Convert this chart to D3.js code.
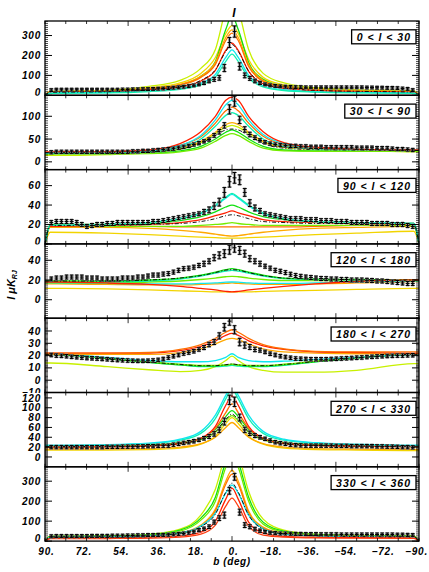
<!DOCTYPE html>
<html>
<head>
<meta charset="utf-8">
<script src="https://cdnjs.cloudflare.com/ajax/libs/d3/7.8.5/d3.min.js"></script>
<style>
body { margin:0; background:#fff; }
text { font-family:"Liberation Sans", Arial, sans-serif; font-style:italic; font-weight:bold; fill:#000; }
</style>
</head>
<body>
<div id="chart"></div>
<script>
// latitude bins of the data points (deg), left to right
var bins = d3.range(72).map(function(j){ return 86.975 - 2.45*j; });
// latitudes where the model curves are sampled
var knots = [90, 87.5, 60, 40, 25, 15, 8, 3, 0, -3, -8, -15, -25, -40, -60, -87.5, -90];

var panelNames = ["0 < l < 30", "30 < l < 90", "90 < l < 120", "120 < l < 180",
                  "180 < l < 270", "270 < l < 330", "330 < l < 360"];
var yDomains = [[0,373], [-17,146], [0,76.5], [-18.7,56.6], [-10,50.4], [-20,131], [0,372]];
var yTicks = [[0,100,200,300], [0,50,100], [0,20,40,60], [0,20,40], [-10,0,10,20,30,40],
              [0,20,40,60,80,100,120], [0,100,200,300]];
var yMinor = [10, 5, 2, 2, 1, 2, 10];
var xLabels = [90, 72, 54, 36, 18, 0, -18, -36, -54, -72, -90];

// data points (uK_RJ)
var data1 = [26,28,28,28,28,28, 28,28,28,28,28,28, 28,28,29,29,30,30, 31,31,32,33,34,36, 38,40,43,46,50,55, 62,72,80,88,137,265,
             320,145,100,85,72,62, 55,50,47,45,43,42, 41,41,40,40,40,40, 40,40,40,40,40,40, 40,40,39,39,38,38, 37,37,36,34,32,26];
var err1  = [7,7,7,7,7,7, 7,7,7,7,7,7, 7,7,7,7,7,7, 7,7,7,7,7,7, 7,7,7,7,7,7, 8,9,10,12,18,25,
             28,18,12,10,9,8, 7,7,7,7,7,7, 7,7,7,7,7,7, 7,7,7,7,7,7, 7,7,7,7,7,7, 7,7,7,7,7,7];
var data2 = [21,22,22,22,22,22, 22,22,22,22,22,22, 22,22,22,22,23,23, 24,24,25,26,27,28, 29,31,33,35,38,41, 45,49,58,66,80,115,
             133,92,71,60,53,47, 43,40,38,37,36,35, 35,34,34,33,33,33, 32,32,32,32,32,32, 31,31,31,31,30,30, 30,29,28,28,27,26];
var err2  = [3.5,3.5,3.5,3.5,3.5,3.5, 3.5,3.5,3.5,3.5,3.5,3.5, 3.5,3.5,3.5,3.5,3.5,3.5, 3.5,3.5,3.5,3.5,3.5,3.5, 3.5,3.5,3.5,3.5,3.5,3.5, 3.5,3.5,4,5,6,10,
             11,8,6,5,4,3.5, 3.5,3.5,3.5,3.5,3.5,3.5, 3.5,3.5,3.5,3.5,3.5,3.5, 3.5,3.5,3.5,3.5,3.5,3.5, 3.5,3.5,3.5,3.5,3.5,3.5, 3.5,3.5,3.5,3.5,3.5,3.5];
var data3 = [22,23,23,23,23,22, 20,18,19,20,20,21, 21,22,22,22,22,22, 22,22,23,23,24,25, 26,27,28,29,30,31, 33,35,39,43,53,64,
             68,66,53,42,37,34, 31,30,29,28,27,26, 26,26,25,25,25,24, 24,24,23,23,23,22, 22,22,22,21,21,21, 21,20,20,20,19,18];
var err3  = [2,2,2,2,2,2, 2,2,2,2,2,2, 2,2,2,2,2,2, 2,2,2,2,2,2, 2,2,2,2,2,2, 2.5,3,3.5,4,5,5.5,
             5.5,5,4,3.5,3,2.5, 2,2,2,2,2,2, 2,2,2,2,2,2, 2,2,2,2,2,2, 2,2,2,2,2,2, 2,2,2,2,2,2];
var data4 = [21,22,22,23,23,23, 23,22,22,22,21,21, 21,21,22,22,22,23, 23,24,25,25,26,26.5, 28,29.8,31.5,32,33,34.8, 36.5,39,42.6,45,46.7,50.7,
             52.7,50,46.7,41.6,39,36.5, 34,32,29.8,28.8,27.5,25.8, 24.5,23.7,23,22.5,22,21.5, 21.4,21,21,20.5,20.5,20, 20,20,19.7,19.5,19,19, 18.5,18,17.5,17,16.5,16.5];
var err4  = [2,2,2,2,2,2, 2,2,2,2,2,2, 2,2,2,2,2,2, 2,2,2,2,2,2, 2,2,2,2,2,2, 2.5,2.5,3,3.5,4,4.5,
             4.5,4,3.5,3,2.5,2.5, 2,2,2,2,2,2, 2,2,2,2,2,2, 2,2,2,2,2,2, 2,2,2,2,2,2, 2,2,2,2,2,2];
var data5 = [20.5,20,19.8,19.5,19,18.7, 18.4,18,17.8,17.6,17.3,17, 16.7,16.4,16.2,16,15.8,15.7, 15.7,15.8,16,16.5,17.2,18.4, 19.5,20.5,21.7,22.5,23.5,25, 26.5,29,31,36,43,48,
             41,31,28.5,27,25,24.4, 23,21.5,20.5,19.5,18.8,18.2, 17.6,17.4,17.2,17,17,17, 17,17.2,17.4,17.6,17.8,18, 18.3,18.5,18.8,19,19.3,19.5, 19.7,19.8,20,20,20.2,20.3];
var err5  = [1.4,1.4,1.4,1.4,1.4,1.4, 1.4,1.4,1.4,1.4,1.4,1.4, 1.4,1.4,1.4,1.4,1.4,1.4, 1.4,1.4,1.4,1.4,1.4,1.4, 1.4,1.4,1.4,1.4,1.4,1.4, 1.6,1.8,2,2.5,3,3.3,
             3.3,3,2.5,2,1.8,1.6, 1.4,1.4,1.4,1.4,1.4,1.4, 1.4,1.4,1.4,1.4,1.4,1.4, 1.4,1.4,1.4,1.4,1.4,1.4, 1.4,1.4,1.4,1.4,1.4,1.4, 1.4,1.4,1.4,1.4,1.4,1.4];
var data6 = [20,20,20,20,20,20, 20,20,20,20,20,20.5, 20.5,20.5,21,21,21,21.5, 21.5,22,22,22.5,23,23, 25,26.7,28.5,30,32,34.7, 38,41.4,46.8,55,72,116,
             112,80,55,48,43.4,40, 36.8,33.3,30,28,26.7,25, 24,23.5,23,23,23,23, 23,23,22.5,22.5,22.5,22, 22,22,22,22,21.5,21.5, 21,21,20.5,20,20,19.5];
var err6  = [3.4,3.4,3.4,3.4,3.4,3.4, 3.4,3.4,3.4,3.4,3.4,3.4, 3.4,3.4,3.4,3.4,3.4,3.4, 3.4,3.4,3.4,3.4,3.4,3.4, 3.4,3.4,3.4,3.4,3.4,3.4, 3.6,4,4.5,5.5,7,9.5,
             9.5,7,5.5,4.5,4,3.6, 3.4,3.4,3.4,3.4,3.4,3.4, 3.4,3.4,3.4,3.4,3.4,3.4, 3.4,3.4,3.4,3.4,3.4,3.4, 3.4,3.4,3.4,3.4,3.4,3.4, 3.4,3.4,3.4,3.4,3.4,3.4];
var data7 = [24,25,25,25,25,25, 25,25,26,26,26,26, 27,27,27,28,28,29, 29,30,30,31,31,32, 34,36,38,42,47,55, 62,72,95,115,130,252,
             322,145,80,72,60,52, 46,42,40,38,38,37, 36,36,35,35,35,34, 34,34,34,33,33,33, 33,33,33,33,33,33, 33,33,32,32,31,30];
var err7  = [7.5,7.5,7.5,7.5,7.5,7.5, 7.5,7.5,7.5,7.5,7.5,7.5, 7.5,7.5,7.5,7.5,7.5,7.5, 7.5,7.5,7.5,7.5,7.5,7.5, 7.5,7.5,7.5,7.5,7.5,7.5, 8,9,10,12,15,17,
             17,15,12,10,9,8, 7.5,7.5,7.5,7.5,7.5,7.5, 7.5,7.5,7.5,7.5,7.5,7.5, 7.5,7.5,7.5,7.5,7.5,7.5, 7.5,7.5,7.5,7.5,7.5,7.5, 7.5,7.5,7.5,7.5,7.5,7.5];

// model curves, sampled at the knots
var curves1 = {
  ygreen: [0,20,25,45,75,135,230,430,500,430,230,110,62,38,28,22,0],
  yellow: [0,18,22,38,62,110,190,310,350,310,180,90,52,32,25,20,0],
  green:  [0,16,20,32,52,95,170,330,400,330,165,80,45,28,22,18,0],
  orange: [0,17,21,34,55,95,165,290,328,290,155,75,45,28,22,18,0],
  dorange:[0,16,20,32,52,90,155,275,312,275,145,70,42,27,21,17,0],
  red:    [0,14,17,27,42,72,125,225,262,225,120,58,35,23,18,15,0],
  cyan:   [0,12,14,22,35,60,105,190,228,190,100,48,28,18,14,12,0],
  aqua:   [0,10,12,19,30,52,92,170,207,170,88,42,24,16,12,10,0],
  dashdot:[0,15,18,28,44,75,128,220,255,220,122,60,37,25,20,16,0]
};
var curves2 = {
  ygreen: [14,14,16,20,28,42,62,76,80,76,62,44,32,28,26,22,22],
  green:  [18,18,18,19,24,34,50,65,70,65,50,34,26,24,24,24,24],
  lgreen: [17,17,17,18,22,30,45,58,62,58,45,30,24,23,23,23,23],
  orange: [20,20,21,23,31,45,65,82,86,82,65,45,32,28,26,25,25],
  aqua:   [19,19,20,22,32,50,78,102,108,102,78,50,34,28,26,25,25],
  dorange:[21,21,22,25,36,55,85,112,120,112,85,56,38,30,27,26,26],
  cyan:   [20,20,21,24,36,58,92,125,135,125,92,60,40,31,28,26,26],
  red:    [22,22,22,26,40,66,100,135,142,135,100,66,42,32,28,26,26],
  dashdot:[20,20,20,22,28,40,58,70,72,70,58,40,30,27,26,25,25]
};
var curves3 = {
  yellow: [0,12,11,9.5,8,7,6.5,6,6,6,6.5,7,8,9.5,11,13,0],
  orange: [0,17,17,16,14,12,10,8.5,8,8.5,10,12,14,16,17,18,0],
  dorange:[0,18,18,18,17.5,17.5,17.5,17.5,17.5,17.5,17.5,17.5,17.5,18,19,20,0],
  lgreen: [0,18,18,18,18,19,20,21,22,21,20,19,19,19,19,19,0],
  red:    [0,18,19,20,22,25,29,32,34,32,29,25,23,22,21,21,0],
  green:  [0,20,20,21,24,28,33,38,40,38,33,28,25,23,22,21,0],
  cyan:   [0,19,20,22,26,31,39,47,51,47,39,31,26,23,22,21,0],
  aqua:   [0,19,20,22,26,32,40,48,52,48,40,32,26,23,22,21,0],
  dashdot:[0,19,19,20,21,23,26,29,30,29,26,23,22,21,21,20,0]
};
var curves4 = {
  yellow: [11.5,11.5,11,10,9,8.5,8,8,8,8,8,8.5,9,9.5,10.5,11.5,11.5],
  orange: [16,16,15.5,15,15,15.5,16,16.5,17,16.5,16,15.5,15.5,16,17,18.5,18.5],
  cyan:   [17,17,16.5,16,16,16.5,17,17.8,18,17.8,17,16.5,16.5,17,18,19,19],
  lgreen: [17,17,17,18,19,20.5,22,23.3,23.7,23.3,22,20.5,19.5,19.5,19.5,19.5,19.5],
  aqua:   [18,18,18,19,21,24,27,29,29.8,29,27,24,21.5,20.5,20,20,20],
  green:  [19,19,19,20,22,25,28,30.5,31.5,30.5,28,25,22,21,20.5,20,20],
  red:    [18,18,17,15.5,13.5,11.5,10,8.5,8,8.5,10,11.5,13.5,16,18.5,20,20],
  dashdot:[19,19,19,20,22,24.5,27.5,30,30.5,30,27.5,24.5,22,21,20.5,20,20]
};
var curves5 = {
  ygreen: [14,14,11,8.5,7,8,11,16,19.5,16,11,8,6.5,6.5,8,13.5,13.5],
  aqua:   [21,21,17.5,14.5,12.5,11,11,11.5,12,11.5,11,11,12,15,18,21,21],
  green:  [21,21,17.5,14.5,12.5,11.5,11.5,12.3,12.8,12.3,11.5,11.5,12.5,15,18,21,21],
  lgreen: [21.5,21.5,18,15,13,12,12,12.5,13,12.5,12,12,13,15.5,18.5,21.5,21.5],
  cyan:   [21.5,21.5,18.5,16,15,15,16,18.5,21.5,18.5,16,15,15.5,17,18.5,21,21],
  orange: [21,21,21,21,22.5,25.5,29.5,33,34,33,29.5,25.5,23,22,21.5,21.5,21.5],
  red:    [22,22,22,22,24,27.5,32,36.5,38,36.5,32,28,25,23,22.5,22,22],
  dorange:[22,22,22,22.5,25,29,34,39,41,39,34,29,25.5,23.5,23,23,23],
  dashdot:[21,21,17.8,14.8,12.8,11.8,11.8,12.6,13.2,12.6,11.8,11.8,12.8,15.2,18.2,21,21]
};
var curves6 = {
  yellow: [14,14,14,15,18,26,42,68,80,68,42,26,18,15,14,13,13],
  orange: [16,16,16,17,20,27,40,60,70,60,40,27,20,17,16,15.5,15.5],
  lgreen: [21,21,21.5,23,27,35,50,74,84,74,50,35,27,23.5,22,21.5,21.5],
  green:  [22,22,22.5,24,29,38,56,82,94,82,56,38,29,25,23,22,22],
  dorange:[21,21,21.5,23,28,38,58,90,108,90,58,38,28,24,22.5,22,22],
  red:    [20,20,20.5,22,27,38,62,105,124,105,62,38,27,23,21.5,21,21],
  aqua:   [23,23,24,27,34,48,78,118,138,118,78,48,34,28,25,23,23],
  cyan:   [24,24,25,28,36,52,85,125,145,125,85,52,36,29,26,24,24],
  dashdot:[21,21,21.5,23,27.5,36,52,76,87,76,52,36,27.5,24,22.5,22,22]
};
var curves7 = {
  ygreen: [0,24,26,34,60,130,260,440,520,440,250,110,55,35,28,26,0],
  green:  [0,24,26,32,55,115,220,400,480,400,220,95,50,33,27,25,0],
  lgreen: [0,23,25,30,50,105,200,370,440,370,200,85,45,31,26,24,0],
  orange: [0,20,22,26,40,80,160,300,355,300,150,70,38,27,23,21,0],
  dorange:[0,19,21,25,38,75,150,285,335,285,140,65,36,26,22,20,0],
  cyan:   [0,20,22,26,40,75,140,240,280,240,130,62,35,26,22,20,0],
  red:    [0,14,15,18,25,45,100,210,265,210,95,40,24,19,17,16,0],
  red2:   [0,12,13,15,20,35,80,175,215,175,75,30,20,16,15,14,0],
  dashdot:[0,21,23,27,40,72,135,245,290,245,130,60,36,27,23,21,0]
};

var lineColors = {ygreen:"#c8f000", yellow:"#f2d400", orange:"#ffa800", dorange:"#ff7000",
                  red:"#ff2000", red2:"#ff3c10", green:"#10e010", lgreen:"#74ec00",
                  cyan:"#10e6ee", aqua:"#10f0b0", dashdot:"#000"};

var allData = [data1, data2, data3, data4, data5, data6, data7];
var allErr = [err1, err2, err3, err4, err5, err6, err7];
var allCurves = [curves1, curves2, curves3, curves4, curves5, curves6, curves7];

var W = 429, H = 572;
var left = 45, right = 419, top0 = 21, ph = 74.3;

var svg = d3.select("#chart").append("svg").attr("width", W).attr("height", H);
var x = d3.scaleLinear().domain([90, -90]).range([left, right]);

function fmt(v) { return v < 0 ? "\u2212" + Math.abs(v) : "" + v; }

for (var i = 0; i < 7; i++) {
  var y0 = top0 + i*ph;
  var dom = yDomains[i];
  var y = d3.scaleLinear().domain(dom).range([y0 + ph, y0]);
  var g = svg.append("g");

  svg.append("clipPath").attr("id", "clip" + i)
    .append("rect").attr("x", left).attr("y", y0).attr("width", right - left).attr("height", ph);
  // tick labels of this panel stay inside its own band
  var padTop = (i == 0) ? 10 : 0, padBot = (i == 6) ? 4 : 0.5;
  svg.append("clipPath").attr("id", "lclip" + i)
    .append("rect").attr("x", 0).attr("y", y0 - padTop).attr("width", left).attr("height", ph + padTop + padBot);
  var cg = g.append("g").attr("clip-path", "url(#clip" + i + ")");
  var lg = g.append("g").attr("clip-path", "url(#lclip" + i + ")");

  var line = d3.line()
    .x(function(d){ return x(d[0]); })
    .y(function(d){ return y(d[1]); })
    .curve(d3.curveMonotoneX);

  var curves = allCurves[i];
  Object.keys(curves).forEach(function(k) {
    if (k == "dashdot") return;
    cg.append("path")
      .attr("d", line(knots.map(function(b, j){ return [b, curves[k][j]]; })))
      .attr("fill", "none").attr("stroke", lineColors[k]).attr("stroke-width", 1.3);
  });
  if (curves.dashdot) {
    cg.append("path")
      .attr("d", line(knots.map(function(b, j){ return [b, curves.dashdot[j]]; })))
      .attr("fill", "none").attr("stroke", "#000").attr("stroke-width", 0.9)
      .attr("stroke-dasharray", "4,2,1,2");
  }

  // data points with error bars
  var vals = allData[i], errs = allErr[i];
  var pts = cg.selectAll("g.pt").data(bins).enter().append("g");
  pts.append("line").attr("stroke", "#a8a8a8").attr("stroke-width", 3)
    .attr("x1", function(b){ return x(b); }).attr("x2", function(b){ return x(b); })
    .attr("y1", function(b, j){ return y(vals[j] + errs[j]) - 1; })
    .attr("y2", function(b, j){ return y(vals[j] - errs[j]) + 1; });
  pts.append("line").attr("stroke", "#000").attr("stroke-width", 1)
    .attr("x1", function(b){ return x(b); }).attr("x2", function(b){ return x(b); })
    .attr("y1", function(b, j){ return y(vals[j] + errs[j]); })
    .attr("y2", function(b, j){ return y(vals[j] - errs[j]); });
  [1, 0, -1].forEach(function(s) {
    pts.append("line").attr("stroke", "#000").attr("stroke-width", 1)
      .attr("x1", function(b){ return x(b) - 2; }).attr("x2", function(b){ return x(b) + 2; })
      .attr("y1", function(b, j){ return y(vals[j] + s*errs[j]); })
      .attr("y2", function(b, j){ return y(vals[j] + s*errs[j]); });
  });

  // axes box
  g.append("rect").attr("x", left).attr("y", y0).attr("width", right - left).attr("height", ph)
    .attr("fill", "none").attr("stroke", "#000").attr("stroke-width", 1.3);

  // y ticks, both sides
  var minor = d3.range(Math.ceil(dom[0]/yMinor[i])*yMinor[i], dom[1], yMinor[i]);
  minor.forEach(function(v) {
    g.append("line").attr("x1", left).attr("x2", left + 3).attr("y1", y(v)).attr("y2", y(v))
      .attr("stroke", "#000").attr("stroke-width", 0.7);
    g.append("line").attr("x1", right - 3).attr("x2", right).attr("y1", y(v)).attr("y2", y(v))
      .attr("stroke", "#000").attr("stroke-width", 0.7);
  });
  yTicks[i].forEach(function(v) {
    g.append("line").attr("x1", left).attr("x2", left + 7).attr("y1", y(v)).attr("y2", y(v))
      .attr("stroke", "#000").attr("stroke-width", 1);
    g.append("line").attr("x1", right - 7).attr("x2", right).attr("y1", y(v)).attr("y2", y(v))
      .attr("stroke", "#000").attr("stroke-width", 1);
    var yy = y(v) + 3.6;
    if (Math.abs(y(v) - (y0 + ph)) < 1 && dom[0] == 0) yy -= 3;
    lg.append("text").attr("x", 41).attr("y", yy).attr("text-anchor", "end")
      .attr("font-size", "10px").attr("letter-spacing", "0.8px").text(fmt(v));
  });

  // x ticks, top and bottom
  d3.range(-90, 91, 10).forEach(function(b) {
    var len = (b % 50 == 0) ? 5 : 3;
    g.append("line").attr("x1", x(b)).attr("x2", x(b)).attr("y1", y0).attr("y2", y0 + len)
      .attr("stroke", "#000").attr("stroke-width", 0.8);
    g.append("line").attr("x1", x(b)).attr("x2", x(b)).attr("y1", y0 + ph - len).attr("y2", y0 + ph)
      .attr("stroke", "#000").attr("stroke-width", 0.8);
  });

  // region label box
  var box = g.append("rect");
  var lbl = g.append("text").attr("font-size", "10.5px").attr("letter-spacing", "1px")
    .attr("y", y0 + 20).text(panelNames[i]);
  var bw = lbl.node().getComputedTextLength() + 10;
  lbl.attr("x", 416 - bw + 5);
  box.attr("x", 416 - bw).attr("y", y0 + 8.8)
    .attr("width", bw).attr("height", 14).attr("fill", "#fff")
    .attr("stroke", "#000").attr("stroke-width", 1.3);
}

// x tick labels
var yb = top0 + 7*ph;
xLabels.forEach(function(b, k) {
  var t = svg.append("text").attr("y", yb + 14)
    .attr("font-size", "10px").attr("letter-spacing", "0.8px").text(fmt(b) + ".");
  if (k == xLabels.length - 1) t.attr("x", 428).attr("text-anchor", "end");
  else t.attr("x", x(b) + 1.5).attr("text-anchor", "middle");
});

// titles
svg.append("text").attr("x", 234).attr("y", 17).attr("text-anchor", "middle")
  .attr("font-size", "12px").text("I");
svg.append("text").attr("x", 232).attr("y", 565).attr("text-anchor", "middle")
  .attr("font-size", "10px").attr("letter-spacing", "0.6px").text("b (deg)");
var yl = svg.append("text").attr("transform", "translate(15,285) rotate(-90)")
  .attr("text-anchor", "middle").attr("font-size", "11px");
yl.append("tspan").text("I \u03bcK");
yl.append("tspan").attr("font-size", "7px").attr("dy", 2).text("RJ");
</script>
</body>
</html>
